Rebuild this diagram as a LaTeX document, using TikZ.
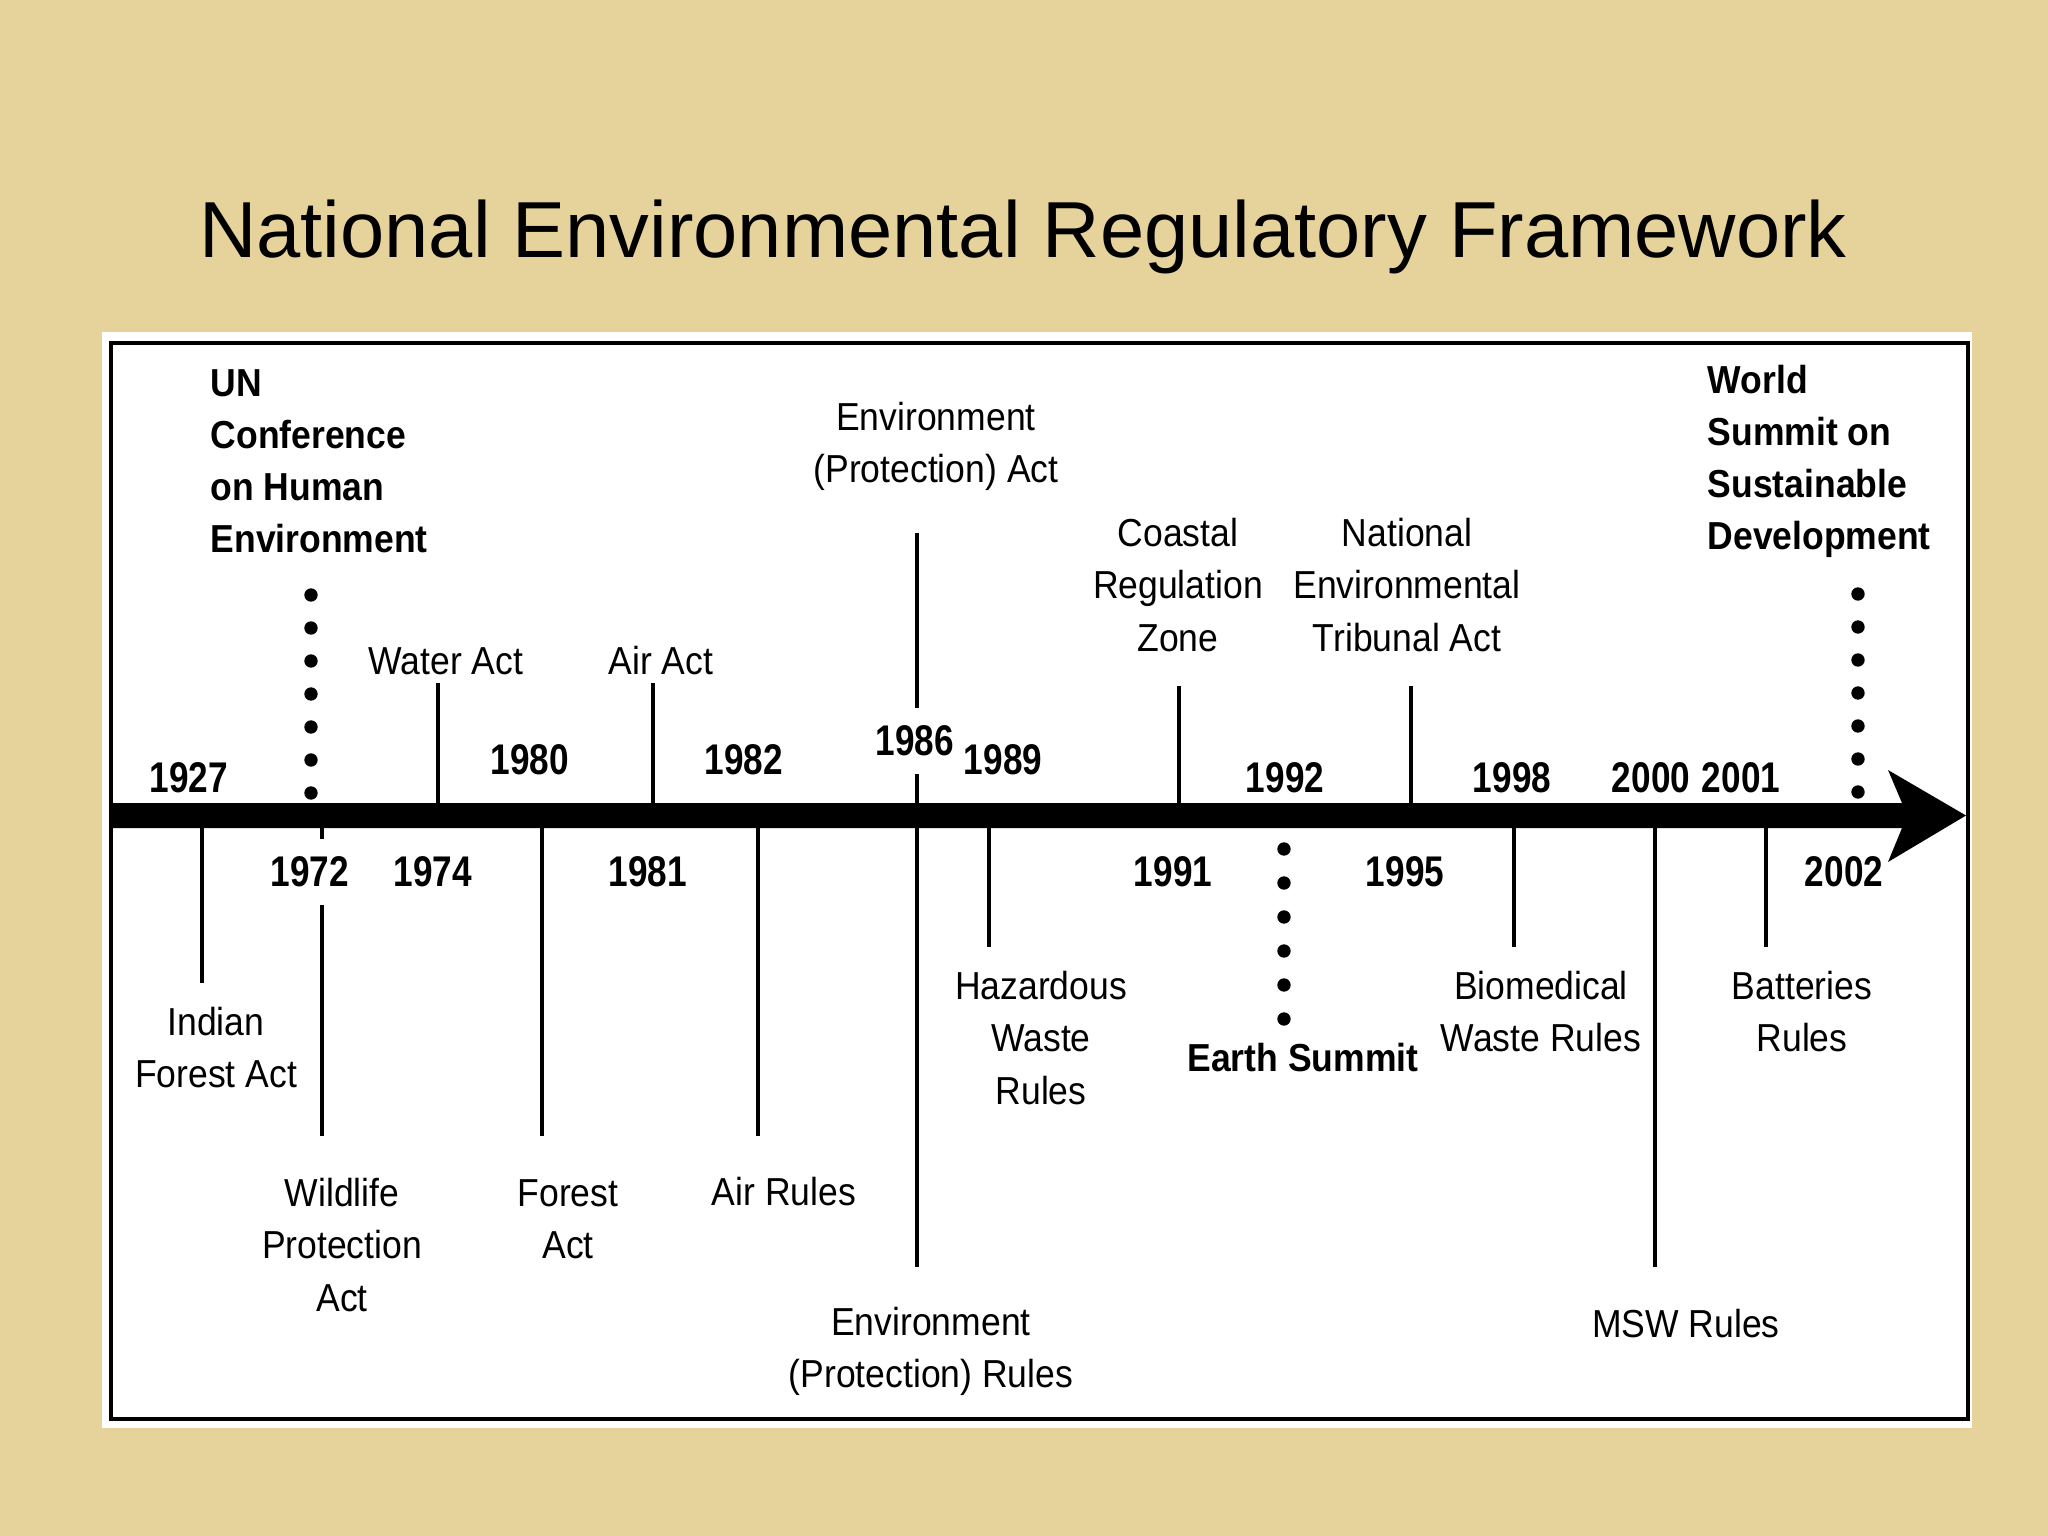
\documentclass[tikz,border=0pt]{standalone}
\usepackage{fontspec}
\setmainfont{Liberation Sans}
\newfontfamily\narrowfont[FakeStretch=0.91]{Liberation Sans}
\newfontfamily\yearfont[FakeStretch=0.82]{Liberation Sans}
\usetikzlibrary{positioning}
\definecolor{papyrus}{RGB}{230,210,155}

\tikzset{
  event/.style={font=\narrowfont\fontsize{11.1}{14.8}\selectfont, align=center, inner sep=0pt},
  bold event/.style={event, font=\narrowfont\bfseries\fontsize{11.1}{14.8}\selectfont, align=left},
  year/.style={font=\yearfont\bfseries\fontsize{12.2}{14}\selectfont, inner sep=0pt},
  gap year/.style={year, fill=white, inner xsep=3pt, inner ysep=5pt},
  stem/.style={line width=0.9pt}
}

\begin{document}
\begin{tikzpicture}[x=0.01cm, y=-0.01cm]
    % Background and frame (1 unit = 1 px of the slide)
    \useasboundingbox (0,0) rectangle (2048,1536);
    \fill[papyrus] (0,0) rectangle (2048,1536);
    \fill[white] (102,332) rectangle (1972,1428);
    \draw[line width=1.4pt] (111,343) rectangle (1968,1419);

    % Title
    \node[font=\fontsize{22.6}{27}\selectfont, anchor=base] (title) at (1023,257)
        {National Environmental Regulatory Framework};

    % Timeline bar with arrow head
    \fill (111,803) -- (1902,803) -- (1888,770) -- (1966,815.5) -- (1888,862)
        -- (1902,828) -- (111,828) -- cycle;
    \coordinate (bartop) at (111,803);
    \coordinate (barbot) at (111,828);

    % Stems above the bar
    \foreach \x/\y [count=\i] in {438/683, 653/683, 917/533, 1179/686, 1411/686} {
        \coordinate (up\i) at (\x,\y);
        \draw[stem] (up\i) -- (up\i |- bartop);
    }

    % Stems below the bar
    \foreach \x/\y [count=\i] in {202/983, 322/1136, 542/1136, 758/1136, 917/1267,
                                  989/947, 1514/947, 1655/1267, 1766/947} {
        \coordinate (down\i) at (\x,\y);
        \draw[stem] (down\i) -- (down\i |- barbot);
    }

    % Dotted markers (conferences)
    \foreach \k in {0,...,6} {
        \fill (311,{793-33*\k}) circle (1.9pt);
        \fill (1858,{792-33*\k}) circle (1.9pt);
    }
    \foreach \k in {0,...,5} {
        \fill (1284,{849+34*\k}) circle (1.9pt);
    }

    % Years
    \foreach \yr/\x/\y in {1927/189/778, 1980/530/760, 1982/744/760, 1989/1003/760,
                           1992/1285/778, 1998/1512/778, 2000/1651/778, 2001/1741/778,
                           1974/433/872, 1981/648/872, 1991/1173/872, 1995/1405/872,
                           2002/1844/872} {
        \node[year] (y\yr) at (\x,\y) {\yr};
    }
    \node[gap year] (y1972) at (310,872) {1972};
    \node[gap year] (y1986) at (915,741) {1986};

    % Events above the bar
    \node[bold event, anchor=west] (unche) at (210,461) {UN\\Conference\\on Human\\Environment};
    \node[event] (water) at (446,661) {Water Act};
    \node[event] (airact) at (661,661) {Air Act};
    \node[event] (epa) at (936,446) {Environment\\(Protection) Act};
    \node[event] (crz) at (1178,585) {Coastal\\Regulation\\Zone};
    \node[event] (neta) at (1407,585) {National\\Environmental\\Tribunal Act};
    \node[bold event, anchor=west] (wssd) at (1707,461) {World\\Summit on\\Sustainable\\Development};

    % Events below the bar
    \node[event] (ifa) at (216,1048) {Indian\\Forest Act};
    \node[event] (wpa) at (342,1245) {Wildlife\\Protection\\Act};
    \node[event] (fca) at (568,1219) {Forest\\Act};
    \node[event] (airrules) at (784,1192) {Air Rules};
    \node[event] (epr) at (931,1351) {Environment\\(Protection) Rules};
    \node[event] (hwr) at (1041,1038) {Hazardous\\Waste\\Rules};
    \node[bold event] (earth) at (1303,1058) {Earth Summit};
    \node[event] (bmw) at (1541,1012) {Biomedical\\Waste Rules};
    \node[event] (batt) at (1802,1012) {Batteries\\Rules};
    \node[event] (msw) at (1686,1324) {MSW Rules};
\end{tikzpicture}
\end{document}
